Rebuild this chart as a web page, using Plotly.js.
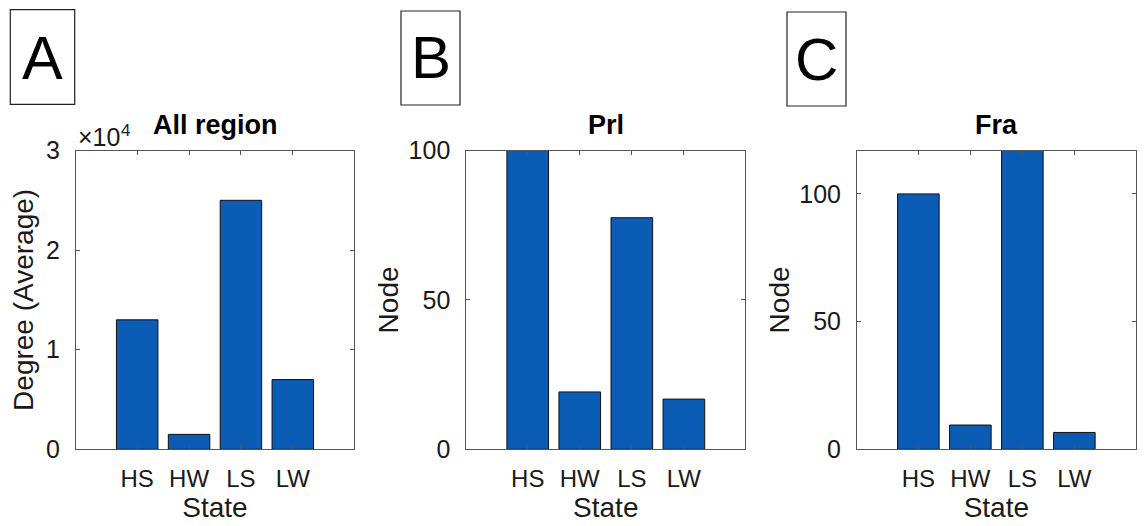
<!DOCTYPE html>
<html>
<head>
<meta charset="utf-8">
<script src="https://cdn.plot.ly/plotly-3.0.1.min.js"></script>
<style>html,body{margin:0;padding:0;background:#fff;}#chart{width:1144px;height:526px;}</style>
</head>
<body>
<div id="chart"></div>
<script>
const states = ['HS', 'HW', 'LS', 'LW'];
const allRegion = [13000, 1500, 25000, 7000];
const prl = [100, 19.2, 77.5, 16.8];
const fra = [100, 9.5, 117, 6.6];
const yTicksA = [0, 10000, 20000, 30000];
const yTickTextA = ['0', '1', '2', '3'];
const yTicksNode = [0, 50, 100];
const titles = ['All region', 'Prl', 'Fra'];
const yTitles = ['Degree (Average)', 'Node', 'Node'];
const panelLetters = ['A', 'B', 'C'];
const exponentBase = '×10';
const exponent = '4';

const W = 1144, H = 526;
const barColor = '#0b5cb5';
const axisColor = '#555555';
const textColor = '#1a1a1a';
const FONT = 'Liberation Sans, Arial, sans-serif';

function bar(y, xa, ya) {
  return {type: 'bar', x: states, y: y, xaxis: xa, yaxis: ya,
    marker: {color: barColor, line: {color: '#111', width: 1}},
    hoverinfo: 'x+y', showlegend: false};
}
const data = [bar(allRegion, 'x', 'y'), bar(prl, 'x2', 'y2'), bar(fra, 'x3', 'y3')];

const yDom = [1 - 449.3 / H, 1 - 150.5 / H];
function xax(l, r) {
  return {domain: [l / W, r / W], type: 'category', range: [-1.18, 4.18],
    showline: true, mirror: 'ticks', linecolor: axisColor, linewidth: 1,
    ticks: 'inside', ticklen: 4, tickcolor: axisColor,
    tickfont: {family: FONT, size: 24, color: textColor},
    ticklabelstandoff: 8,
    title: {text: 'State', font: {family: FONT, size: 28, color: textColor}, standoff: 2},
    showgrid: false, zeroline: false, fixedrange: true};
}
function yax(range, tv, tt, title, anchor, standoff) {
  const a = {domain: yDom, range: range, anchor: anchor,
    showline: true, mirror: 'ticks', linecolor: axisColor, linewidth: 1,
    ticks: 'inside', ticklen: 4, tickcolor: axisColor,
    tickvals: tv, tickfont: {family: FONT, size: 25, color: textColor},
    ticklabelstandoff: 10,
    title: {text: title, font: {family: FONT, size: 28, color: textColor}, standoff: standoff},
    showgrid: false, zeroline: false, fixedrange: true};
  if (tt) a.ticktext = tt;
  return a;
}

const boxes = [[10.3, 74.7, 9.7, 104.3], [401, 460, 11, 105], [787, 846, 12, 106]];
const letterPos = [[42.5, 58, 61], [430.5, 58, 60], [816.5, 59, 60]];
const titleX = [215, 605.8, 996.3];

const shapes = boxes.map(b => ({type: 'rect', xref: 'paper', yref: 'paper',
  x0: b[0] / W, x1: b[1] / W, y0: 1 - b[3] / H, y1: 1 - b[2] / H,
  line: {color: '#222', width: 1.2}}));

const annotations = [];
panelLetters.forEach((L, i) => annotations.push({text: L, xref: 'paper', yref: 'paper',
  x: letterPos[i][0] / W, y: 1 - letterPos[i][1] / H, showarrow: false,
  xanchor: 'center', yanchor: 'middle', font: {family: FONT, size: letterPos[i][2], color: '#000'}}));
titles.forEach((t, i) => annotations.push({text: '<b>' + t + '</b>', xref: 'paper', yref: 'paper',
  x: titleX[i] / W, y: 1 - 142 / H, showarrow: false, xanchor: 'center', yanchor: 'bottom',
  font: {family: FONT, size: 27, color: '#000'}}));
annotations.push({text: exponentBase, xref: 'paper', yref: 'paper', x: 76 / W, y: 1 - 137 / H,
  showarrow: false, xanchor: 'left', yanchor: 'middle', font: {family: FONT, size: 25, color: textColor}});
annotations.push({text: exponent, xref: 'paper', yref: 'paper', x: 118.5 / W, y: 1 - 130 / H,
  showarrow: false, xanchor: 'left', yanchor: 'middle', font: {family: FONT, size: 17, color: textColor}});

const layout = {
  width: W, height: H,
  margin: {l: 0, r: 0, t: 0, b: 0},
  paper_bgcolor: '#fff', plot_bgcolor: '#fff',
  bargap: 0.2,
  font: {family: FONT, color: textColor},
  xaxis: Object.assign(xax(76, 354), {anchor: 'y'}),
  xaxis2: Object.assign(xax(466.3, 745.3), {anchor: 'y2'}),
  xaxis3: Object.assign(xax(857, 1135.7), {anchor: 'y3'}),
  yaxis: yax([0, 30000], yTicksA, yTickTextA, yTitles[0], 'x', 4),
  yaxis2: yax([0, 100], yTicksNode, null, yTitles[1], 'x2', 1),
  yaxis3: yax([0, 117], yTicksNode, null, yTitles[2], 'x3', 1),
  shapes: shapes,
  annotations: annotations
};

Plotly.newPlot('chart', data, layout, {displayModeBar: false, staticPlot: true});
</script>
</body>
</html>
